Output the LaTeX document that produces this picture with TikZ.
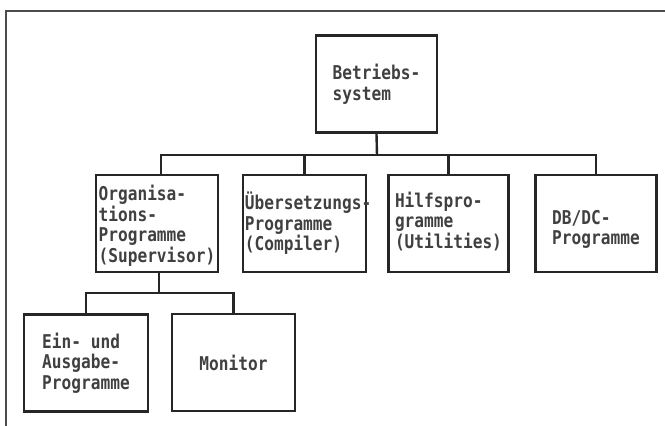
\documentclass[tikz,border=0pt]{standalone}
\usepackage{fontspec}
\newfontfamily\typefont[FakeStretch=0.85]{DejaVu Sans Mono}
\begin{document}
\begin{tikzpicture}[x=1pt,y=-1pt,
  box/.style={draw=black!85, line width=2.6pt, minimum width=#1, minimum height=97pt, inner sep=0pt},
  box/.default=122pt,
  lbl/.style={align=left, inner sep=0pt, font=\typefont\bfseries\fontsize{19}{20.5}\selectfont, text=black!75},
  conn/.style={draw=black!85, line width=2.4pt}]
\useasboundingbox (0,0) rectangle (665,426);
\draw[draw=black!70, line width=1.8pt] (6,426) -- (6,11) -- (665,11);
% boxes
\node[box=121pt] (b0) at (376.5,84) {};
\node[box] (b1) at (157,223.5) {};
\node[box=123pt] (b2) at (304.5,223.5) {};
\node[box=120pt] (b3) at (448.5,223.5) {};
\node[box=121pt] (b4) at (596,223.5) {};
\node[box=124pt] (b5) at (86,363) {};
\node[box=123pt] (b6) at (233.5,362.5) {};
% texts
\node[lbl] (t0) at (b0.center) {Betriebs-\\system};
\node[lbl] (t1) at ([yshift=-2pt]b1.center) {Organisa-\\tions-\\Programme\\(Supervisor)};
\node[lbl, anchor=west] (t2) at ([xshift=3pt]b2.west) {Übersetzungs-\\Programme\\(Compiler)};
\node[lbl] (t3) at ([yshift=2pt]b3.center) {Hilfspro-\\gramme\\(Utilities)};
\node[lbl] (t4) at ([yshift=-6pt]b4.center) {DB/DC-\\Programme};
\node[lbl] (t5) at (b5.center) {Ein- und\\Ausgabe-\\Programme};
\node[lbl] (t6) at (b6.center) {Monitor};
% connectors
\coordinate (j0) at (377,155);
\coordinate (j1) at (159,293);
\draw[conn] (b0.south) -- (j0);
\draw[conn] (j0) -| ([xshift=4pt]b1.north);
\draw[conn] (j0) -| (b2.north);
\draw[conn] (j0) -| (b3.north);
\draw[conn] (j0) -| (b4.north);
\draw[conn] ([xshift=2pt]b1.south) -- (j1);
\draw[conn] (j1) -| (b5.north);
\draw[conn] (j1) -| (b6.north);
\end{tikzpicture}
\end{document}
